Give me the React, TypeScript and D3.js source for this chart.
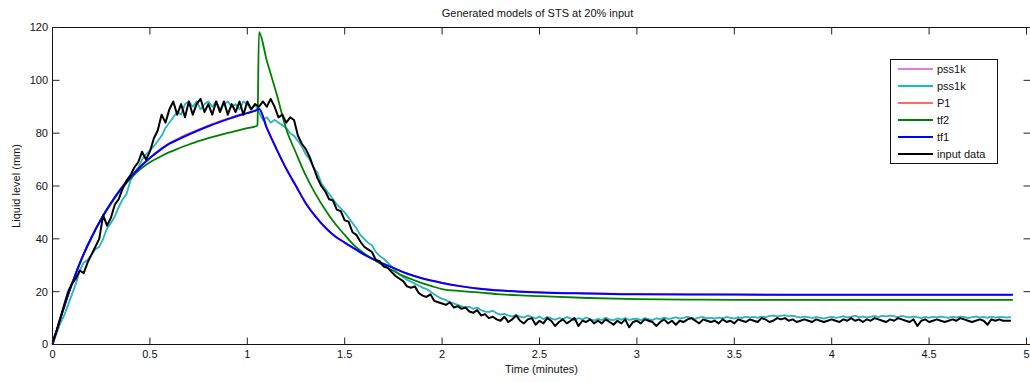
import React from 'react';
import * as d3 from 'd3';

// sampled measurements, one value every SAMPLE_STEP minutes
const SAMPLE_STEP = 0.02;

const inputData = [
  1, 5, 10, 15, 20, 23, 25, 28, 27, 31,
  34, 37, 40, 49, 45, 48, 53, 55, 59, 62,
  64, 67, 69, 73, 70, 73, 78, 81, 87, 84,
  89, 92, 87, 91, 86, 92, 87, 91, 93, 88,
  91, 87, 92, 88, 92, 87, 91, 88, 92, 87,
  92, 89, 91, 90, 92, 90, 93, 90, 86, 87,
  84, 86, 85, 79, 76, 74, 71, 67, 63, 60,
  58, 55, 54.5, 51, 50.5, 47, 46.5, 42.5, 41.5, 39,
  37, 36, 35, 32, 31.5, 29.5, 29, 27.5, 26, 25,
  24, 22, 21.5, 22, 19.5, 18.5, 18, 19, 16.5, 16,
  15.5, 15, 16, 14, 14.5, 13.5, 14, 12.5, 12, 13,
  11, 11.5, 10, 10.5, 9.5, 9, 10.5, 8.5, 9.5, 11,
  9, 8, 9.5, 10, 7.5, 9, 8, 10, 9, 7,
  8.5, 9.5, 8, 9, 10, 7, 9, 8.5, 9.5, 8,
  9, 8, 9.5, 8.5, 7.5, 9, 8, 9.5, 6.5, 8.5,
  9, 8, 9.5, 9, 8.5, 7, 8.5, 9.5, 8, 9,
  7.5, 9, 8.5, 9.5, 10, 9, 8, 9.5, 9, 8.5,
  9, 8, 9.5, 8.5, 9, 8, 9.5, 9, 8.5, 9.5,
  9, 8.5, 10, 9.5, 8.5, 9, 10, 9.5, 10, 9,
  9.5, 8.5, 9, 9.5, 9, 8.5, 9.5, 9, 8.5, 9,
  9.5, 9, 8.5, 9.5, 9, 10, 9, 9.5, 8.5, 9.5,
  9, 10, 9.5, 9, 8.5, 9.5, 9, 10, 9.5, 9,
  8.5, 9.5, 7, 9, 9.5, 8.5, 9, 9.5, 9, 8.5,
  9, 9.5, 9, 10, 9.5, 9, 8.5, 9, 9.5, 9,
  7.5, 9.5, 9, 9.5, 9, 9, 9,
];

const pss1kCyan = [
  0, 4, 8, 11, 15, 19, 23, 28, 31, 32,
  34, 36, 37, 40, 44, 46, 48.5, 52, 55, 57,
  62, 65, 67, 70, 72, 73.5, 75, 77, 79, 82,
  84, 86, 88, 87, 91, 92, 90, 92, 89, 91,
  92, 90, 92, 89, 91, 92, 90, 91, 89, 92,
  91, 89, 91, 88, 85, 86, 84, 85, 84, 83,
  82, 80, 79, 77, 75, 72, 70, 67, 65, 61,
  59, 57, 55, 53, 51.5, 50, 48, 46, 44, 41.5,
  40, 38.5, 37.5, 35, 33.5, 32.5, 31, 29.5, 28, 26.5,
  25.5, 24.5, 23.8, 23, 22.3, 21.5, 21, 20, 19, 18,
  17.3, 16.8, 16, 15.5, 15, 14.5, 14, 14.3, 13.5, 14,
  13, 12.5, 12.3, 12.8, 11.8, 11.3, 11.6, 11, 10.6, 11.2,
  10.5, 10.2, 11, 10.4, 9.8, 10.6, 9.6, 10.4, 9.9, 9.4,
  10, 9.6, 10.4, 9.8, 9.2, 10, 9.5, 10.2, 9.6, 9.1,
  9.7, 9.3, 10.1, 9.5, 9.2, 9.9, 9.4, 10, 9.3, 9.6,
  9.8, 9.2, 10, 9.6, 9.3, 9.9, 9.6, 10.2, 9.7, 9.9,
  10.3, 9.8, 10.1, 10.5, 10, 9.7, 10.2, 10.4, 9.9, 10.1,
  9.8, 10.2, 9.9, 10.4, 10.1, 9.8, 10.3, 10, 10.5, 10.2,
  10.4, 10.1, 10.6, 10.3, 10.8, 11, 10.6, 10.9, 11.1, 10.7,
  10.9, 10.5, 10.2, 10.6, 10.3, 10, 10.4, 10.1, 9.8, 10.2,
  10.5, 10.1, 10.3, 10.7, 10.2, 10.5, 10.9, 10.4, 10.6, 10.2,
  10.5, 10.8, 10.4, 10.9, 10.6, 11, 10.7, 10.4, 10.8, 10.5,
  10.2, 10.6, 10.3, 10, 10.4, 10.1, 10.5, 10.2, 10.6, 10.3,
  10.1, 10.5, 10.2, 10.6, 10.4, 10, 10.3, 10.6, 10.2, 10.4,
  10.1, 10.5, 10.2, 10.4, 10.3, 10.2, 10.3,
];
// magenta pss1k sits right under the cyan one
const pss1kMagenta = pss1kCyan;

const tf1Time = [
  0, 0.05, 0.1, 0.15, 0.2, 0.25, 0.3, 0.35, 0.4, 0.45, 0.5, 0.55, 0.6, 0.65, 0.7, 0.75, 0.8, 0.85, 0.9, 0.95, 1.0, 1.05,
  1.06, 1.1, 1.15, 1.2, 1.25, 1.3, 1.35, 1.4, 1.45, 1.5, 1.55, 1.6, 1.65, 1.7, 1.75, 1.8, 1.85, 1.9, 1.95, 2.0,
  2.1, 2.2, 2.3, 2.4, 2.5, 2.75, 3.0, 3.5, 4.0, 4.5, 4.93,
];
const tf1Values = [
  0, 12, 23, 32.5, 40.5, 47.5, 53.5, 58.8, 63.3, 67.2, 70.6, 73.5, 76.0, 77.8, 79.5, 81.1, 82.6, 84.0, 85.3, 86.5, 87.6, 88.8,
  89.2, 82, 74, 66.5, 60, 53.5, 48.5, 44.3, 41.0, 38.6, 36.3, 34.0, 32.2, 30.5, 29.0, 27.4, 26.1, 25.0, 24.1, 23.3,
  22.0, 21.0, 20.4, 20.0, 19.7, 19.3, 19.0, 18.9, 18.8, 18.8, 18.8,
];
const p1Values = [
  0, 12, 23, 32.5, 40.5, 47.5, 53.6, 58.9, 63.4, 67.3, 70.7, 73.7, 76.2, 78.1, 79.8, 81.4, 82.9, 84.3, 85.5, 86.7, 87.7, 88.8,
  89.2, 82, 74, 66.5, 60, 53.5, 48.5, 44.3, 41.0, 38.6, 36.3, 34.0, 32.2, 30.5, 29.0, 27.4, 26.1, 25.0, 24.1, 23.3,
  22.0, 21.1, 20.5, 20.1, 19.8, 19.4, 19.1, 18.9, 18.8, 18.8, 18.8,
];

const tf2Time = [
  0, 0.05, 0.1, 0.15, 0.2, 0.25, 0.3, 0.35, 0.4, 0.45, 0.5, 0.55, 0.6, 0.65, 0.7, 0.75, 0.8, 0.85, 0.9, 0.95, 1.0, 1.05,
  1.052, 1.06, 1.1, 1.15, 1.2, 1.25, 1.3, 1.35, 1.4, 1.45, 1.5, 1.55, 1.6, 1.65, 1.7, 1.75, 1.8, 1.85, 1.9, 1.95, 2.0,
  2.1, 2.2, 2.3, 2.4, 2.5, 2.75, 3.0, 3.25, 3.5, 4.0, 4.5, 4.93,
];
const tf2Values = [
  0, 12, 23, 32.5, 40.5, 47.5, 53.4, 58.5, 62.8, 66.3, 69.0, 71.0, 72.8, 74.3, 75.7, 77.0, 78.1, 79.1, 80.1, 81.0, 81.9, 82.8,
  83, 118.2, 107.5, 95, 81.5, 72.5, 64, 57, 51, 45.8, 41.5, 37.4, 34.5, 32.1, 29.9, 27.9, 26.0, 24.5, 23.1, 22.0, 21.0,
  20.2, 19.6, 19.0, 18.6, 18.3, 17.6, 17.2, 17.0, 16.9, 16.9, 16.9, 16.9,
];

const xTicks = [0, 0.5, 1, 1.5, 2, 2.5, 3, 3.5, 4, 4.5, 5];
const yTicks = [0, 20, 40, 60, 80, 100, 120];

const legendItems = [
  { label: 'pss1k', color: '#db7fdb' },
  { label: 'pss1k', color: '#17bfbf' },
  { label: 'P1', color: '#ff6b6b' },
  { label: 'tf2', color: '#008000' },
  { label: 'tf1', color: '#0000ff' },
  { label: 'input data', color: '#000000' },
];

const FONT = '"Liberation Sans", Arial, sans-serif';

export default function App() {
  const left = 52.5, top = 27.5, bottom = 344.5, boxRight = 1030.5;
  const x = d3.scaleLinear().domain([0, 5]).range([52.5, 1026.5]);
  const y = d3.scaleLinear().domain([0, 120]).range([bottom, top]);

  const noisy = d3.line<number>().x((_, i) => x(i * SAMPLE_STEP)).y(d => y(d));
  const smooth = (times: number[]) =>
    d3.line<number>().x((_, i) => x(times[i])).y(d => y(d)).curve(d3.curveMonotoneX);

  const series = [
    { d: noisy(pss1kMagenta), color: legendItems[0].color, w: 1.5 },
    { d: noisy(pss1kCyan), color: legendItems[1].color, w: 1.6 },
    { d: smooth(tf1Time)(p1Values), color: legendItems[2].color, w: 1.8 },
    { d: smooth(tf2Time)(tf2Values), color: legendItems[3].color, w: 1.8 },
    { d: smooth(tf1Time)(tf1Values), color: legendItems[4].color, w: 2 },
    { d: noisy(inputData), color: legendItems[5].color, w: 2 },
  ];

  const tickLen = 7;
  const cx = (52.5 + 1026.5) / 2;

  return (
    <svg width={1030} height={383} style={{ position: 'fixed', left: 0, top: 0, background: '#fff' }} fontFamily={FONT}>
      <rect x={0} y={0} width={1030} height={383} fill="#fff" />
      <text x={cx - 2} y={17} fontSize={11} textAnchor="middle" fill="#111">Generated models of STS at 20% input</text>

      {series.map((s, i) => (
        <path key={i} d={s.d || ''} fill="none" stroke={s.color} strokeWidth={s.w} strokeLinejoin="round" />
      ))}

      {/* box */}
      <path d={`M${left},${bottom}V${top}H${boxRight}`} fill="none" stroke="#111" strokeWidth={1} />
      <line x1={left} x2={boxRight} y1={bottom} y2={bottom} stroke="#111" strokeWidth={1.2} />

      {xTicks.map(t => (
        <g key={`x${t}`}>
          <line x1={x(t)} x2={x(t)} y1={bottom} y2={bottom - tickLen} stroke="#222" />
          <line x1={x(t)} x2={x(t)} y1={top} y2={top + tickLen} stroke="#222" />
          <text x={x(t)} y={358} fontSize={11} textAnchor="middle" fill="#111">{t}</text>
        </g>
      ))}
      {yTicks.map(v => (
        <g key={`y${v}`}>
          <line x1={left} x2={left + tickLen} y1={y(v)} y2={y(v)} stroke="#222" />
          <line x1={boxRight} x2={boxRight - tickLen} y1={y(v)} y2={y(v)} stroke="#222" />
          <text x={48} y={y(v)} dy="0.35em" fontSize={11} textAnchor="end" fill="#111">{v}</text>
        </g>
      ))}

      <text x={cx + 2} y={373} fontSize={11} textAnchor="middle" fill="#111">Time (minutes)</text>
      <text transform={`translate(20,${(top + bottom) / 2}) rotate(-90)`} fontSize={11} textAnchor="middle" fill="#111">Liquid level (mm)</text>

      {/* legend */}
      <rect x={890.5} y={59.5} width={107} height={104} fill="#fff" stroke="#111" strokeWidth={1} />
      {legendItems.map((it, i) => (
        <g key={i} transform={`translate(0,${69 + i * 17})`}>
          <line x1={898} x2={933} y1={0} y2={0} stroke={it.color} strokeWidth={2} />
          <text x={937} y={4} fontSize={11} fill="#111">{it.label}</text>
        </g>
      ))}
    </svg>
  );
}
